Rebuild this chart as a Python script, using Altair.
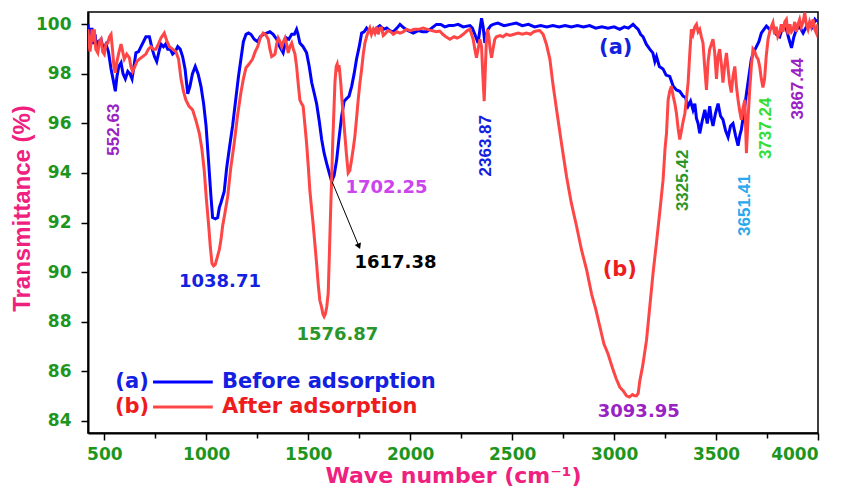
import altair as alt
import pandas as pd

# ---------------- data ----------------
blue_wn = [420, 426, 432, 440, 447, 455, 462, 470, 484, 495, 508, 520, 533, 545, 554, 562, 571, 582, 592, 603,
           615, 626, 636, 647, 655, 668, 680, 692, 704, 721, 735, 746, 757, 768, 778, 790, 800, 811, 823, 835,
           848, 860, 872, 884, 896, 909, 920, 932, 946, 960, 974, 987, 999, 1011, 1023, 1031, 1045, 1056, 1064, 1072,
           1088, 1100, 1115, 1129, 1145, 1158, 1170, 1182, 1195, 1207, 1219, 1235, 1252, 1265, 1280, 1296, 1312, 1328, 1345, 1360,
           1377, 1386, 1394, 1405, 1419, 1432, 1443, 1450, 1459, 1475, 1492, 1505, 1517, 1530, 1541, 1554, 1566, 1578, 1590, 1603,
           1615, 1627, 1639, 1651, 1664, 1676, 1688, 1700, 1713, 1725, 1737, 1750, 1762, 1774, 1786, 1800, 1819, 1835, 1851, 1870,
           1885, 1900, 1917, 1935, 1950, 1970, 1990, 2015, 2040, 2060, 2080, 2105, 2129, 2150, 2170, 2190, 2211, 2235, 2260, 2293,
           2305, 2317, 2333, 2342, 2350, 2358, 2366, 2374, 2382, 2395, 2407, 2430, 2460, 2490, 2520, 2550, 2580, 2610, 2640, 2670,
           2700, 2730, 2760, 2790, 2820, 2850, 2880, 2910, 2940, 2970, 3000, 3028, 3050, 3070, 3093, 3105, 3118, 3130, 3142, 3158,
           3175, 3190, 3200, 3208, 3222, 3240, 3255, 3273, 3290, 3306, 3322, 3338, 3350, 3363, 3375, 3387, 3396, 3404, 3412, 3420,
           3432, 3445, 3457, 3469, 3477, 3485, 3497, 3510, 3522, 3534, 3547, 3559, 3571, 3583, 3596, 3608, 3616, 3624, 3636, 3649,
           3661, 3673, 3686, 3698, 3710, 3722, 3735, 3747, 3763, 3779, 3795, 3812, 3828, 3845, 3858, 3870, 3882, 3894, 3910, 3927,
           3943, 3959, 3972, 3985, 3995]
blue_t = [100.0, 99.1, 99.8, 99.8, 99.2, 99.6, 99.0, 99.3, 99.4, 99.0, 99.2, 98.9, 98.2, 97.7, 97.3, 97.9, 98.3, 98.45, 98.0, 97.8,
          98.1, 98.0, 97.8, 98.4, 98.85, 98.9, 99.1, 99.3, 99.5, 99.5, 99.0, 98.7, 98.5, 98.9, 99.2, 99.1, 99.2, 99.0, 99.0, 98.8,
          98.9, 99.1, 99.0, 98.7, 98.2, 97.2, 97.5, 98.0, 98.3, 98.0, 97.5, 96.8, 95.9, 94.5, 93.05, 92.2, 92.15, 92.2, 92.6, 92.8,
          93.25, 94.2, 95.1, 95.9, 97.0, 97.9, 98.6, 99.3, 99.6, 99.65, 99.6, 99.4, 99.3, 99.5, 99.6, 99.65, 99.7, 99.6, 99.4, 99.1,
          98.85, 99.2, 99.45, 99.4, 99.6, 99.6, 99.8, 99.6, 99.25, 99.1, 98.85, 98.3, 97.65, 97.2, 96.8, 96.1, 95.35, 94.8, 94.4, 94.0,
          93.65, 93.9, 94.5, 95.4, 96.3, 96.9, 97.0, 97.1, 97.5, 98.0, 98.6, 99.1, 99.65, 99.7, 99.85, 99.7, 99.7, 99.85, 99.95, 99.8,
          99.85, 99.75, 99.7, 99.85, 100.0, 99.85, 99.75, 99.65, 99.75, 99.7, 99.7, 99.85, 100.0, 100.0, 99.9, 99.95, 99.95, 100.0, 99.9, 99.95,
          99.85, 99.6, 99.25, 99.8, 100.25, 99.9, 99.25, 99.6, 99.8, 99.95, 100.0, 100.05, 99.95, 100.0, 100.05, 99.95, 100.0, 99.9, 99.95, 99.9,
          99.95, 99.9, 99.95, 99.9, 99.95, 99.9, 99.95, 99.85, 99.9, 99.85, 99.9, 99.8, 99.9, 99.85, 100.0, 99.9, 99.8, 99.6, 99.5, 99.2,
          99.0, 98.85, 98.5, 98.7, 98.3, 98.2, 97.95, 97.9, 97.5, 97.35, 97.3, 97.1, 97.05, 96.7, 96.9, 96.55, 96.8, 96.2, 96.0, 95.6,
          96.1, 96.55, 96.0, 96.7, 96.2, 95.9, 96.4, 96.8, 96.3, 96.15, 95.7, 95.45, 95.9, 96.0, 95.5, 95.1, 95.5, 95.75, 96.4, 97.2,
          97.9, 98.6, 98.9, 99.1, 99.3, 99.65, 99.8, 99.93, 99.8, 99.93, 99.6, 99.5, 99.9, 99.8, 99.4, 99.05, 99.5, 99.8, 99.9, 99.65,
          99.9, 100.07, 99.9, 100.2, 100.1]

red_wn = [420, 425, 430, 435, 440, 446, 451, 458, 468, 476, 484, 492, 500, 508, 517, 525, 533, 540, 547, 554,
          562, 571, 582, 590, 598, 610, 623, 630, 639, 650, 660, 672, 688, 704, 716, 729, 740, 753, 765, 778,
          794, 806, 819, 835, 851, 864, 876, 888, 900, 915, 933, 950, 966, 978, 990, 1000, 1012, 1020, 1028, 1036,
          1044, 1054, 1064, 1072, 1080, 1092, 1105, 1120, 1137, 1153, 1170, 1182, 1195, 1210, 1227, 1240, 1252, 1265, 1279, 1290,
          1304, 1312, 1321, 1330, 1337, 1345, 1353, 1362, 1370, 1378, 1386, 1394, 1402, 1410, 1419, 1427, 1435, 1443, 1451, 1459,
          1467, 1475, 1483, 1492, 1500, 1508, 1516, 1524, 1532, 1541, 1549, 1557, 1565, 1572, 1578, 1584, 1591, 1598, 1604, 1610,
          1615, 1620, 1626, 1631, 1637, 1642, 1647, 1651, 1655, 1660, 1664, 1672, 1680, 1688, 1696, 1704, 1713, 1721, 1729, 1737,
          1745, 1753, 1762, 1770, 1778, 1786, 1794, 1802, 1810, 1819, 1827, 1835, 1843, 1852, 1860, 1868, 1876, 1890, 1905, 1917,
          1935, 1950, 1966, 1982, 2000, 2020, 2040, 2064, 2085, 2105, 2129, 2145, 2160, 2175, 2195, 2215, 2230, 2244, 2260, 2280,
          2293, 2301, 2309, 2317, 2325, 2333, 2342, 2350, 2356, 2363, 2369, 2374, 2379, 2386, 2392, 2399, 2406, 2415, 2423, 2440,
          2455, 2472, 2490, 2510, 2530, 2550, 2570, 2590, 2605, 2619, 2635, 2652, 2668, 2685, 2700, 2718, 2742, 2767, 2790, 2816,
          2840, 2865, 2890, 2910, 2930, 2950, 2970, 2995, 3010, 3028, 3045, 3061, 3075, 3090, 3101, 3110, 3118, 3126, 3140, 3159,
          3175, 3191, 3208, 3225, 3240, 3250, 3257, 3265, 3273, 3281, 3290, 3298, 3306, 3314, 3322, 3330, 3339, 3347, 3355, 3363,
          3371, 3379, 3387, 3396, 3404, 3412, 3420, 3428, 3436, 3445, 3453, 3461, 3469, 3477, 3485, 3493, 3502, 3510, 3518, 3526,
          3534, 3542, 3551, 3559, 3567, 3575, 3583, 3592, 3600, 3608, 3616, 3624, 3632, 3641, 3649, 3657, 3665, 3673, 3681, 3690,
          3698, 3706, 3714, 3722, 3730, 3738, 3746, 3755, 3763, 3771, 3779, 3787, 3795, 3803, 3812, 3820, 3828, 3837, 3845, 3853,
          3862, 3870, 3878, 3886, 3894, 3902, 3910, 3918, 3927, 3935, 3943, 3951, 3959, 3967, 3976, 3984, 3992, 3998]
red_t = [99.8, 99.2, 98.9, 99.25, 99.8, 99.3, 99.8, 99.0, 98.85, 99.3, 99.4, 98.9, 98.8, 99.2, 99.25, 99.5, 99.6, 99.0, 98.3, 98.05,
         98.5, 98.85, 99.2, 98.9, 98.6, 98.8, 98.65, 98.3, 98.1, 98.3, 98.5, 98.6, 98.7, 98.8, 99.0, 99.1, 99.0, 99.0, 99.2, 99.45,
         99.65, 99.35, 99.1, 99.0, 98.9, 98.6, 97.8, 97.3, 96.95, 96.7, 96.55, 96.1, 95.6, 95.0, 94.1, 93.0, 91.85, 91.0, 90.35, 90.25,
         90.3, 90.6, 90.9, 91.3, 91.85, 92.4, 93.05, 94.2, 95.2, 96.3, 97.25, 97.8, 98.25, 98.4, 98.6, 98.9, 99.1, 99.45, 99.65, 99.6,
         99.4, 99.0, 98.7, 98.75, 98.8, 99.2, 99.45, 99.3, 99.1, 99.3, 99.45, 99.2, 98.85, 99.1, 99.25, 99.0, 98.8, 98.3, 97.6, 96.95,
         96.8, 96.7, 96.0, 95.2, 94.3, 93.3, 92.6, 91.95, 91.2, 90.35, 89.5, 88.85, 88.6, 88.3, 88.2, 88.3, 88.6, 89.15, 90.8, 92.5,
         93.8, 95.2, 96.5, 97.65, 98.3, 98.4, 98.1, 98.35, 98.05, 97.6, 97.1, 96.3, 95.5, 94.7, 94.0, 94.1, 94.55, 95.0, 95.5, 96.2,
         96.95, 97.6, 98.2, 98.8, 99.25, 99.5, 99.7, 99.85, 99.6, 99.8, 99.65, 99.9, 99.6, 99.85, 99.85, 99.55, 99.6, 99.75, 99.7, 99.6,
         99.7, 99.65, 99.7, 99.8, 99.75, 99.8, 99.8, 99.85, 99.8, 99.75, 99.7, 99.73, 99.6, 99.5, 99.4, 99.5, 99.45, 99.5, 99.6, 99.75,
         99.8, 99.6, 99.4, 99.0, 98.65, 99.0, 99.4, 99.1, 98.0, 96.9, 98.3, 99.4, 99.8, 99.5, 99.0, 98.65, 99.0, 99.4, 99.5, 99.55,
         99.5, 99.6, 99.55, 99.6, 99.65, 99.6, 99.65, 99.6, 99.7, 99.73, 99.75, 99.6, 99.2, 98.6, 97.6, 96.55, 95.2, 93.85, 92.8, 91.85,
         90.9, 90.1, 89.1, 88.5, 87.8, 87.1, 86.7, 86.05, 85.7, 85.35, 85.2, 85.0, 84.95, 85.05, 85.0, 85.0, 85.1, 85.6, 86.2, 87.25,
         88.6, 89.95, 91.2, 92.5, 93.7, 95.0, 95.6, 96.95, 97.3, 97.5, 97.1, 96.8, 96.4, 95.8, 95.35, 95.7, 96.1, 96.4, 97.0, 97.65,
         98.8, 99.8, 99.6, 99.9, 100.0, 99.7, 99.8, 99.5, 99.25, 98.2, 97.35, 98.5, 99.0, 99.2, 99.4, 98.9, 97.8, 98.7, 99.0, 98.4,
         97.65, 98.3, 98.85, 98.2, 97.6, 97.25, 97.9, 98.3, 97.5, 96.95, 96.5, 96.15, 96.6, 96.95, 94.8, 96.2, 97.35, 98.3, 99.0, 98.9,
         98.7, 98.6, 98.3, 97.8, 97.45, 97.8, 98.7, 99.4, 99.7, 99.9, 100.07, 99.6, 99.9, 99.5, 99.65, 100.0, 99.7, 100.1, 100.2, 99.6,
         100.0, 99.7, 99.8, 100.1, 99.7, 100.0, 100.2, 99.9, 100.1, 100.47, 100.0, 99.8, 100.1, 99.9, 100.2, 99.8, 99.65, 100.0]

x_ticks = [500, 750, 1000, 1250, 1500, 1750, 2000, 2250, 2500, 2750, 3000, 3250, 3500, 3750, 4000]
y_ticks = [84, 85, 86, 87, 88, 89, 90, 91, 92, 93, 94, 95, 96, 97, 98, 99, 100]

# horizontal peak labels
h_text = ["1038.71", "1576.87", "1617.38", "1702.25", "3093.95", "(a)", "(b)", "(a)", "(b)"]
h_wn = [1067, 1643, 1928, 1884, 3121, 3008, 3028, 636, 636]
h_t = [89.6, 87.45, 90.35, 93.4, 84.35, 99.05, 90.1, 85.56, 84.55]
h_color = ["#1420e0", "#2a962a", "#000000", "#cc44ee", "#9922c4", "#1420e0", "#ee1c1c", "#1420e0", "#ee1c1c"]
h_size = [18, 18, 18, 18, 18, 21, 21, 21, 21]

# vertical peak labels
v_text = ["552.63", "2363.87", "3325.42", "3651.41", "3737.24", "3867.44"]
v_wn = [548, 2370, 3338, 3641, 3747, 3902]
v_t = [95.75, 95.1, 93.7, 92.7, 95.8, 97.4]
v_color = ["#9922c4", "#1420e0", "#2a962a", "#2aa8ee", "#33dd33", "#9922c4"]

# legend
leg_text = ["Before adsorption", "After adsorption"]
leg_color = ["#1420e0", "#ee1c1c"]
leg_line_color = ["#0000ff", "#ff4646"]
leg_wn_start = [739, 739]
leg_wn_end = [1032, 1032]
leg_label_wn = [1077, 1077]
leg_t = [85.56, 84.55]

# arrow
arrow_wn = [1617]
arrow_t = [93.65]
arrow_wn2 = [1747]
arrow_t2 = [91.07]

GREEN = "#1e961e"
PINK = "#f0207f"

df = pd.concat([
    pd.DataFrame({"wn": blue_wn, "t": blue_t, "s": "a"}),
    pd.DataFrame({"wn": red_wn, "t": red_t, "s": "b"}),
])

xs = alt.Scale(domain=[420, 4000], nice=False, zero=False)
ys = alt.Scale(domain=[83.5, 100.5], nice=False, zero=False)

x_axis = alt.Axis(
    values=x_ticks, format="d",
    labelExpr="datum.value % 500 == 0 ? datum.label : ''",
    tickSize={"condition": {"test": "datum.value % 500 != 0", "value": 5}, "value": 7},
    tickColor="black", tickWidth=1.5, domainColor="black", domainWidth=2,
    labelFont="DejaVu Sans", labelFontWeight="bold", labelFontSize=17, labelColor=GREEN,
    labelPadding=6, grid=False,
    title="Wave number (cm⁻¹)", titleFont="DejaVu Sans", titleFontWeight="bold",
    titleFontSize=22, titleColor=PINK, titlePadding=3,
)
y_axis = alt.Axis(
    values=y_ticks,
    labelExpr="datum.value % 2 == 0 ? datum.label : ''",
    tickSize={"condition": {"test": "datum.value % 2 != 0", "value": 5}, "value": 7},
    tickColor="black", tickWidth=1.5, domainColor="black", domainWidth=2,
    labelFont="DejaVu Sans", labelFontWeight="bold", labelFontSize=17, labelColor=GREEN,
    labelPadding=10, grid=False,
    title="Transmittance (%)", titleFont="Liberation Sans", titleFontWeight="bold",
    titleFontSize=24, titleColor=PINK, titlePadding=1, titleY=196,
)

blue_line = alt.Chart(df[df.s == "a"]).mark_line(strokeWidth=3, clip=True, color="#0000ff").encode(
    x=alt.X("wn:Q", scale=xs, axis=x_axis),
    y=alt.Y("t:Q", scale=ys, axis=y_axis),
)
red_line = alt.Chart(df[df.s == "b"]).mark_line(strokeWidth=3, clip=True, color="#ff4646").encode(
    x=alt.X("wn:Q", scale=xs), y=alt.Y("t:Q", scale=ys),
)

hdf = pd.DataFrame({"txt": h_text, "wn": h_wn, "t": h_t, "c": h_color, "sz": h_size})
h_labels = alt.Chart(hdf).mark_text(font="DejaVu Sans", fontWeight="bold", align="center", baseline="middle").encode(
    x=alt.X("wn:Q", scale=xs), y=alt.Y("t:Q", scale=ys), text="txt:N",
    color=alt.Color("c:N", scale=None), size=alt.Size("sz:Q", scale=None),
)

vdf = pd.DataFrame({"txt": v_text, "wn": v_wn, "t": v_t, "c": v_color})
v_labels = alt.Chart(vdf).mark_text(font="Liberation Sans", fontWeight="bold", fontSize=17, angle=270,
                                    align="center", baseline="middle").encode(
    x=alt.X("wn:Q", scale=xs), y=alt.Y("t:Q", scale=ys), text="txt:N",
    color=alt.Color("c:N", scale=None),
)

ldf = pd.DataFrame({"txt": leg_text, "c": leg_color, "lc": leg_line_color, "x1": leg_wn_start,
                    "x2": leg_wn_end, "xl": leg_label_wn, "t": leg_t})
leg_rules = alt.Chart(ldf).mark_rule(strokeWidth=3).encode(
    x=alt.X("x1:Q", scale=xs), x2="x2:Q", y=alt.Y("t:Q", scale=ys),
    color=alt.Color("lc:N", scale=None),
)
leg_labels = alt.Chart(ldf).mark_text(font="DejaVu Sans", fontWeight="bold", fontSize=21,
                                      align="left", baseline="middle").encode(
    x=alt.X("xl:Q", scale=xs), y=alt.Y("t:Q", scale=ys), text="txt:N",
    color=alt.Color("c:N", scale=None),
)

adf = pd.DataFrame({"x1": arrow_wn, "y1": arrow_t, "x2": arrow_wn2, "y2": arrow_t2})
arrow_line = alt.Chart(adf).mark_rule(strokeWidth=1, color="black").encode(
    x=alt.X("x1:Q", scale=xs), y=alt.Y("y1:Q", scale=ys), x2="x2:Q", y2="y2:Q",
)
arrow_head = alt.Chart(adf).mark_point(shape="triangle", angle=157, size=45, filled=True,
                                       color="black", opacity=1).encode(
    x=alt.X("x2:Q", scale=xs), y=alt.Y("y2:Q", scale=ys),
)

chart = alt.layer(
    blue_line, red_line, arrow_line, arrow_head, h_labels, v_labels, leg_rules, leg_labels
).properties(
    width=730, height=421,
    autosize=alt.AutoSizeParams(type="none"),
    padding={"left": 88, "top": 12, "right": 28, "bottom": 53},
    background="white",
).configure_view(stroke="black", strokeWidth=1.5)

chart.save("out.html", embed_options={"renderer": "svg", "actions": False})
